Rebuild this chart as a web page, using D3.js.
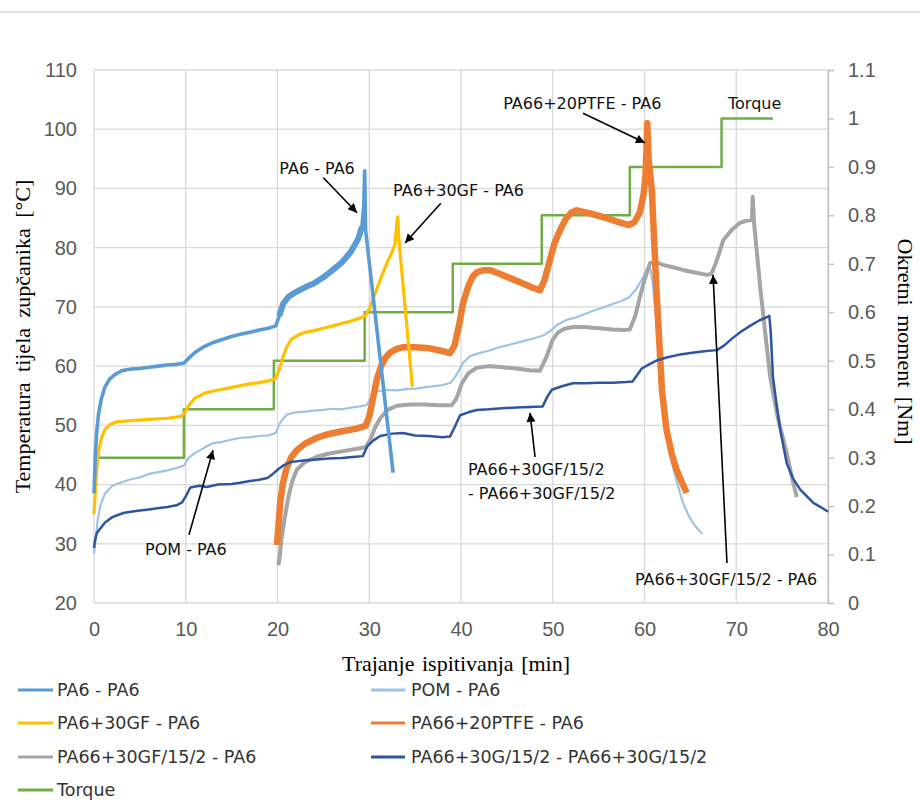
<!DOCTYPE html>
<html>
<head>
<meta charset="utf-8">
<script src="https://cdn.jsdelivr.net/npm/d3@7"></script>
<style>
  html, body { margin: 0; padding: 0; background: #fff; }
  svg { display: block; }
</style>
</head>
<body>
<svg id="chart" width="920" height="800"></svg>
<script>
// ---- Data: gear body temperature [°C] vs. test duration [min] ----
const pa6_pa6 = [[0,38.5],[0.15,45],[0.3,49],[0.5,52],[0.8,54.5],[1.2,56.5],[1.7,57.8],[2.3,58.6],[3,59.2],[4,59.5],[5,59.6],[6,59.8],[7,60],[8,60.2],[9,60.3],[9.8,60.5],[10.3,61.3],[11,62.3],[12,63.3],[13,64],[14,64.5],[15,65],[16,65.4],[17,65.7],[18,66.1],[19,66.4],[19.8,66.8],[20.2,68.5],[20.6,70.5],[21.2,71.7],[22,72.5],[23,73.3],[24,74],[25,75],[26,76.2],[27,77.5],[28,79.3],[28.8,81.5],[29.2,83.5],[29.4,87],[29.5,93],[29.6,83],[32.6,42]];

const pom_pa6 = [[0,28.3],[0.2,31],[0.4,34],[0.7,36.5],[1.2,38.5],[2,39.8],[3,40.4],[4,40.9],[5,41.2],[6,41.8],[7,42.1],[8,42.4],[9,42.8],[9.8,43.2],[10.3,44.5],[11,45.3],[12,46.2],[13,47],[14,47.2],[15,47.6],[16,47.9],[17,48],[18,48.2],[19,48.3],[19.8,48.7],[20.3,50.5],[21,51.8],[22,52.2],[23,52.3],[24,52.5],[25,52.6],[26,52.8],[27,52.7],[28,53],[29,53.2],[29.7,53.4],[30.3,55],[31,55.8],[32,56],[33,55.9],[34,56.1],[35,56.2],[36,56.4],[37,56.6],[38,56.8],[38.9,57.2],[39.5,58.5],[40.2,60.5],[41,61.7],[42,62.2],[43,62.6],[44,63.1],[45,63.5],[46,63.9],[47,64.3],[48,64.7],[49,65.2],[49.8,66],[50.5,67],[51.5,67.8],[52.5,68.2],[53.5,68.8],[54.5,69.4],[55.5,69.9],[56.5,70.5],[57.5,71],[58.3,71.6],[59,72.8],[59.6,74.3],[60.3,76.5],[60.6,76.8],[60.9,74],[61.2,69],[61.6,61],[62,54],[62.5,48],[63,43.6],[63.6,40],[64.2,36.9],[64.8,34.8],[65.3,33.5],[65.8,32.5],[66.3,31.7]];

const pa6gf_pa6 = [[0,35],[0.15,39],[0.3,42.5],[0.5,45.5],[0.8,47.8],[1.2,49.3],[1.8,50.2],[2.5,50.6],[4,50.8],[6,51],[8,51.2],[9.5,51.5],[9.9,52.2],[10.4,53.5],[11,54.6],[12,55.4],[13,55.8],[14,56.1],[15,56.4],[16,56.7],[17,57],[18,57.2],[19,57.5],[19.7,57.8],[20.1,59],[20.6,61.5],[21,63.2],[21.5,64.5],[22.2,65.2],[23,65.7],[24,66],[25,66.4],[26,66.8],[27,67.2],[28,67.6],[29,68.1],[29.6,68.5],[30.1,70],[30.7,72.5],[31.3,75],[31.9,77.3],[32.4,79],[32.8,80.5],[33,84],[33.1,85.2],[33.25,81],[34.7,56.5]];

const pa66ptfe_pa6 = [[19.95,29.8],[20.1,33],[20.3,37],[20.6,40.3],[21,42.8],[21.5,44.6],[22.1,45.8],[23,46.9],[24.3,47.9],[25.5,48.5],[27,49],[28.5,49.4],[29.6,49.9],[30,51.5],[30.4,54.5],[30.8,57.6],[31.3,60],[31.8,61.5],[32.3,62.3],[33,62.9],[33.7,63.2],[35,63.2],[36.6,63],[37.8,62.6],[38.8,62.2],[39.3,63.5],[39.8,67],[40.2,70.5],[40.8,73.5],[41.3,75.2],[41.8,75.9],[42.5,76.2],[43.2,76.2],[44.2,75.6],[45.3,74.9],[46.5,74.1],[47.7,73.3],[48.6,72.8],[49.1,74.5],[49.6,77.4],[50.2,80.8],[50.8,83],[51.4,84.8],[52,85.9],[52.6,86.3],[53.5,86],[54.5,85.6],[55.9,85],[57.2,84.3],[58.3,83.8],[58.9,84.3],[59.5,86],[59.9,89],[60.1,92],[60.25,98],[60.3,101],[60.45,95],[60.8,89.7],[61.3,72.9],[61.9,56],[62.4,49.2],[63,45],[63.5,42.5],[64.1,40.3],[64.6,38.6]];

const pa66gf_pa6 = [[20.1,26.4],[20.25,28],[20.45,31],[20.8,34.5],[21.2,38],[21.6,40.5],[22.1,42.5],[23,43.8],[24.3,44.7],[25.5,45.2],[27,45.6],[28.5,46],[29.6,46.3],[30.1,47.5],[30.6,49.5],[31.2,51.2],[32,52.6],[33,53.3],[34.5,53.5],[36,53.5],[37.5,53.4],[39,53.4],[39.5,54.5],[40.1,57.1],[40.8,58.8],[41.7,59.7],[43,60],[44.5,59.8],[46,59.6],[47.5,59.3],[48.6,59.2],[49.3,61.5],[50,64.5],[50.6,65.7],[51.3,66.3],[52.2,66.6],[53.5,66.6],[55,66.4],[56.5,66.2],[57.8,66.1],[58.4,66.2],[59,68.5],[59.5,71.7],[60,74.5],[60.6,77.4],[61.2,77.6],[62,77.1],[63.1,76.7],[64.3,76.2],[65.5,75.8],[66.8,75.4],[67.3,75.6],[67.8,77.5],[68.6,81.3],[69.5,83],[70.4,84.2],[71,84.5],[71.7,84.7],[71.8,88.6],[71.95,84],[72.3,78.4],[72.6,73.5],[73.2,65],[73.7,58.2],[74.5,51.5],[75.5,45.3],[76.1,41],[76.6,37.9]];

const pa66g_pa66g = [[0,29.3],[0.1,30.5],[0.3,31.8],[0.65,32.5],[1.2,33.6],[2,34.5],[3.2,35.2],[4,35.4],[5,35.6],[6,35.8],[6.9,36],[8,36.2],[9,36.5],[9.6,37],[10,38],[10.5,39.5],[11.5,39.8],[12.3,39.6],[13.5,40],[15,40.1],[15.9,40.3],[17,40.6],[18,40.8],[18.9,41.1],[19.5,41.8],[20,42.5],[20.7,43.3],[21.4,43.8],[22.5,44],[24,44.2],[25.5,44.4],[27,44.5],[28.5,44.7],[29.3,44.8],[29.8,46.5],[30.5,47.5],[31.2,48.2],[32.5,48.6],[33.7,48.7],[35,48.3],[36.5,48.2],[38,48],[38.8,48.1],[39.4,50],[39.9,51.7],[40.8,52.2],[41.7,52.6],[43,52.7],[44.5,52.9],[46,53],[47.5,53.1],[48.9,53.2],[49.4,54.8],[49.9,56],[51,56.6],[52.2,57.1],[53.5,57.1],[55,57.2],[56.5,57.2],[58,57.3],[58.7,57.4],[59.2,58.5],[59.7,59.6],[60.5,60.3],[61.4,61],[62.5,61.5],[63.7,61.9],[65,62.2],[66.5,62.5],[67.9,62.7],[68.7,63.5],[69.5,64.6],[70.5,65.8],[71.5,66.8],[72.5,67.7],[73.4,68.3],[73.6,68.5],[73.75,66],[74,58.2],[74.4,53.5],[74.8,49.2],[75.5,43.6],[76.2,41],[77,39.1],[78.4,36.9],[79.2,36.2],[80,35.4]];

// Applied torque [Nm] per load stage (start time of each stage, last entry = end)
const torqueTimes  = [0, 9.8, 19.6, 29.5, 39.1, 48.8, 58.4, 68.4, 74];
const torqueValues = [0.3, 0.4, 0.5, 0.6, 0.7, 0.8, 0.9, 1.0, 1.0];

// Axis ticks
const xTicks      = [0, 10, 20, 30, 40, 50, 60, 70, 80];
const yTicks      = [20, 30, 40, 50, 60, 70, 80, 90, 100, 110];
const yRightTicks = [0, 0.1, 0.2, 0.3, 0.4, 0.5, 0.6, 0.7, 0.8, 0.9, 1, 1.1];
const yRightLabels = ["0", "0.1", "0.2", "0.3", "0.4", "0.5", "0.6", "0.7", "0.8", "0.9", "1", "1.1"];

// Series definitions (legend order)
const series = [
  { name: "PA6 - PA6",                      data: pa6_pa6,      color: "#5b9bd5" },
  { name: "POM - PA6",                      data: pom_pa6,      color: "#9dc3e6" },
  { name: "PA6+30GF - PA6",                 data: pa6gf_pa6,    color: "#ffc000" },
  { name: "PA66+20PTFE - PA6",              data: pa66ptfe_pa6, color: "#ed7d31" },
  { name: "PA66+30GF/15/2 - PA6",           data: pa66gf_pa6,   color: "#a5a5a5" },
  { name: "PA66+30G/15/2 - PA66+30G/15/2",  data: pa66g_pa66g,  color: "#2f55a0" },
  { name: "Torque",                         data: null,         color: "#70ad47" }
];

// Callout labels with arrows (data coordinates)
const callouts = [
  { lines: ["PA6 - PA6"],            at: [20.2, 93.4],  from: [25.0, 91.8], to: [28.66, 85.9] },
  { lines: ["PA6+30GF - PA6"],       at: [32.6, 89.7],  from: [37.8, 87.5], to: [33.9, 80.8] },
  { lines: ["PA66+20PTFE - PA6"],    at: [44.6, 104.4], from: [53.3, 102.7], to: [60.05, 97.7] },
  { lines: ["Torque"],               at: [69.1, 104.3], from: null, to: null },
  { lines: ["POM - PA6"],            at: [5.56, 28.95], from: [10.35, 31.5], to: [12.97, 45.8] },
  { lines: ["PA66+30GF/15/2", "- PA66+30GF/15/2"], at: [40.76, 42.46], from: [48.07, 44.65], to: [47.52, 52.1] },
  { lines: ["PA66+30GF/15/2 - PA6"], at: [58.96, 23.9], from: [68.99, 26.75], to: [67.47, 75.4] }
];

// ---- Layout ----
const svg = d3.select("#chart");
const plot = { left: 94, right: 828, top: 70, bottom: 603 };

const x  = d3.scaleLinear().domain([0, 80]).range([plot.left, plot.right]);
const y  = d3.scaleLinear().domain([20, 110]).range([plot.bottom, plot.top]);
const yR = d3.scaleLinear().domain([0, 1.1]).range([plot.bottom, plot.top]);

const tickFont = "'Liberation Sans', Arial, sans-serif";
const titleFont = "'Liberation Serif', 'Times New Roman', serif";
const labelFont = "'DejaVu Sans', Verdana, sans-serif";

svg.append("rect").attr("width", 920).attr("height", 800).attr("fill", "#fff");
// thin rule across the top of the page
svg.append("rect").attr("x", 0).attr("y", 11).attr("width", 920).attr("height", 2).attr("fill", "#e2e2e2");

// Grid
const grid = svg.append("g").attr("stroke", "#d9d9d9").attr("stroke-width", 1.3);
grid.selectAll("line.h").data(yTicks).join("line")
  .attr("x1", plot.left).attr("x2", plot.right)
  .attr("y1", d => y(d)).attr("y2", d => y(d));
grid.selectAll("line.v").data(xTicks).join("line")
  .attr("x1", d => x(d)).attr("x2", d => x(d))
  .attr("y1", plot.top).attr("y2", plot.bottom);

// Axes
const styleAxis = g => {
  g.selectAll("text").attr("font-family", tickFont).attr("font-size", 20).attr("fill", "#595959");
};
svg.append("g").attr("transform", `translate(${plot.left},0)`)
  .call(d3.axisLeft(y).tickValues(yTicks).tickSize(0).tickPadding(17))
  .call(g => g.select(".domain").remove())
  .call(styleAxis);

svg.append("g").attr("transform", `translate(0,${plot.bottom})`)
  .call(d3.axisBottom(x).tickValues(xTicks).tickSize(0).tickPadding(19))
  .call(g => g.select(".domain").remove())
  .call(styleAxis);

svg.append("g").attr("transform", `translate(${plot.right},0)`)
  .call(d3.axisRight(yR).tickValues(yRightTicks).tickSize(6).tickPadding(14)
        .tickFormat((d, i) => yRightLabels[i]))
  .call(g => g.select(".domain").attr("stroke", "#bfbfbf").attr("stroke-width", 1.3))
  .call(g => g.selectAll(".tick line").attr("stroke", "#bfbfbf").attr("stroke-width", 1.3))
  .call(styleAxis);

// Axis titles
svg.append("text")
  .attr("transform", `translate(22,${(plot.top + plot.bottom) / 2}) rotate(-90)`)
  .attr("text-anchor", "middle").attr("dominant-baseline", "central")
  .attr("font-family", titleFont).attr("font-size", 22).attr("word-spacing", 5).attr("fill", "#000")
  .text("Temperatura tijela zupčanika [°C]");
svg.append("text")
  .attr("transform", `translate(905,${(plot.top + plot.bottom) / 2 + 5}) rotate(90)`)
  .attr("text-anchor", "middle").attr("dominant-baseline", "central")
  .attr("font-family", titleFont).attr("font-size", 22).attr("word-spacing", 4).attr("fill", "#000")
  .text("Okretni moment [Nm]");
svg.append("text")
  .attr("x", (plot.left + plot.right) / 2 - 5).attr("y", 663)
  .attr("text-anchor", "middle").attr("dominant-baseline", "central")
  .attr("font-family", titleFont).attr("font-size", 22).attr("word-spacing", 2).attr("fill", "#000")
  .text("Trajanje ispitivanja [min]");

// ---- Lines ----
const line = d3.line().x(d => x(d[0])).y(d => y(d[1]));
const marks = svg.append("g").attr("fill", "none")
  .attr("stroke-linejoin", "round").attr("stroke-linecap", "butt");

// Torque step line on the secondary axis
const torqueData = torqueTimes.map((t, i) => [t, torqueValues[i]]);
marks.append("path")
  .attr("d", d3.line().curve(d3.curveStepAfter).x(d => x(d[0])).y(d => yR(d[1]))(torqueData))
  .attr("stroke", series[6].color).attr("stroke-width", 2.5);

const byName = Object.fromEntries(series.map(s => [s.name, s]));
const drawOrder = [
  ["POM - PA6", 2.2],
  ["PA66+30GF/15/2 - PA6", 4],
  ["PA66+20PTFE - PA6", 6.5],
  ["PA66+30G/15/2 - PA66+30G/15/2", 2.5],
  ["PA6+30GF - PA6", 3.2],
  ["PA6 - PA6", 3.6]
];
drawOrder.forEach(([name, w]) => {
  const s = byName[name];
  marks.append("path").attr("d", line(s.data))
    .attr("stroke", s.color).attr("stroke-width", w);
});
// noisier upper stretch of PA6 - PA6 reads as a wider band
marks.append("path")
  .attr("d", line(pa6_pa6.filter(d => d[0] >= 20 && d[0] <= 29.3)))
  .attr("stroke", byName["PA6 - PA6"].color).attr("stroke-width", 6);

// ---- Callouts ----
const defs = svg.append("defs");
defs.append("marker").attr("id", "arrowhead")
  .attr("viewBox", "0 0 10 10").attr("refX", 10).attr("refY", 5)
  .attr("markerWidth", 11).attr("markerHeight", 9)
  .attr("markerUnits", "userSpaceOnUse").attr("orient", "auto")
  .append("path").attr("d", "M0,0 L10,5 L0,10 Z").attr("fill", "#000");

const notes = svg.append("g");
callouts.forEach(c => {
  if (c.from) {
    notes.append("line")
      .attr("x1", x(c.from[0])).attr("y1", y(c.from[1]))
      .attr("x2", x(c.to[0])).attr("y2", y(c.to[1]))
      .attr("stroke", "#000").attr("stroke-width", 1.6)
      .attr("marker-end", "url(#arrowhead)");
  }
  c.lines.forEach((t, i) => {
    notes.append("text")
      .attr("x", x(c.at[0])).attr("y", y(c.at[1]) + i * 24)
      .attr("dominant-baseline", "central")
      .attr("font-family", labelFont).attr("font-size", 16).attr("fill", "#111")
      .text(t);
  });
});

// ---- Legend ----
const legendRows = [690, 723, 757, 790];
const legendCols = [{ x1: 18, x2: 53, tx: 57 }, { x1: 371, x2: 405, tx: 411 }];
const legend = svg.append("g");
series.forEach((s, i) => {
  const col = legendCols[i === 6 ? 0 : i % 2];
  const row = legendRows[Math.floor(i / 2)];
  legend.append("line")
    .attr("x1", col.x1).attr("x2", col.x2).attr("y1", row).attr("y2", row)
    .attr("stroke", s.color).attr("stroke-width", 3);
  legend.append("text")
    .attr("x", col.tx).attr("y", row)
    .attr("dominant-baseline", "central")
    .attr("font-family", labelFont).attr("font-size", 17.5).attr("fill", "#333")
    .text(s.name);
});
</script>
</body>
</html>
